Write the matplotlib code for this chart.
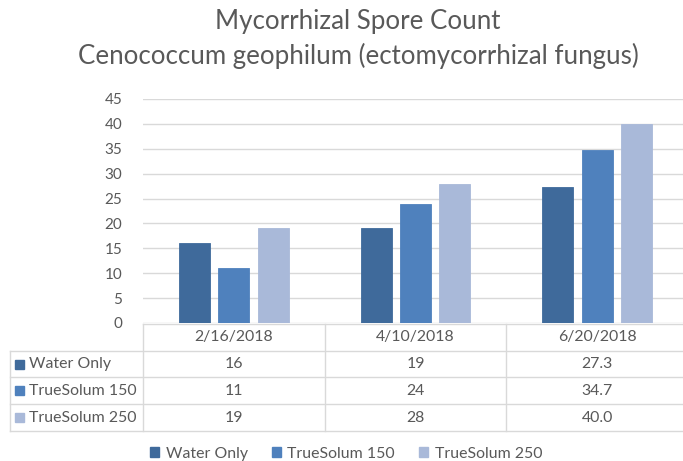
import matplotlib
matplotlib.use("Agg")
import matplotlib.pyplot as plt
from matplotlib.lines import Line2D
from matplotlib.patches import Rectangle
from matplotlib.transforms import blended_transform_factory
import numpy as np

plt.rcParams['font.family'] = ['Lato', 'DejaVu Sans']

title_lines = ["Mycorrhizal Spore Count", "Cenococcum geophilum (ectomycorrhizal fungus)"]
categories = ["2/16/2018", "4/10/2018", "6/20/2018"]
series_names = ["Water Only", "TrueSolum 150", "TrueSolum 250"]
water_only = [16, 19, 27.3]
truesolum_150 = [11, 24, 34.7]
truesolum_250 = [19, 28, 40.0]
table_text = [["16", "19", "27.3"], ["11", "24", "34.7"], ["19", "28", "40.0"]]
yticks = [0, 5, 10, 15, 20, 25, 30, 35, 40, 45]

colors = ["#3F6A9B", "#4F81BD", "#A9B9D9"]
txt = "#595959"
grid = "#D9D9D9"

W, H = 683, 461
fig = plt.figure(figsize=(W / 100, H / 100), dpi=100)

def fx(px):
    return px / W

def fy(py):
    return 1 - py / H

# axes: x from 143 to 688, y 0 at 323, 45 at 99
ax = fig.add_axes([fx(143), fy(323), fx(688) - fx(143), fy(99) - fy(323)])
ax.set_xlim(-0.5, 2.5)
ax.set_ylim(0, 45)

x = np.arange(len(categories))
bw = 0.17
step = 0.217
for i, vals in enumerate([water_only, truesolum_150, truesolum_250]):
    ax.bar(x + (i - 1) * step, vals, width=bw, color=colors[i],
           edgecolor=colors[i], linewidth=0.6, zorder=3)

ax.set_yticks(yticks)
ax.yaxis.grid(True, color=grid, linewidth=1.0, zorder=0)
ax.set_xticks([])
for s in ax.spines.values():
    s.set_visible(False)
ax.tick_params(axis='y', length=0, pad=15, labelsize=11, labelcolor=txt)
ax.set_axisbelow(True)

fs = 11.4

# title
fig.text(fx(358), fy(21), title_lines[0], ha='center', va='center', fontsize=18.6, color=txt)
fig.text(fx(358), fy(56), title_lines[1], ha='center', va='center', fontsize=18.6, color=txt)

# table
lw = 1.0
def hline(x0, x1, y):
    fig.add_artist(Line2D([fx(x0), fx(x1)], [fy(y), fy(y)], color=grid, lw=lw, transform=fig.transFigure))

def vline(xp, y0, y1):
    fig.add_artist(Line2D([fx(xp), fx(xp)], [fy(y0), fy(y1)], color=grid, lw=lw, transform=fig.transFigure))

row_y = [324, 351, 377, 404, 431]
hline(143, 690, 324)
for yy in row_y[1:]:
    hline(10, 690, yy)
vline(10, 351, 431)
for xp in [143, 325, 506]:
    vline(xp, 324, 431)

trans = blended_transform_factory(ax.transData, fig.transFigure)
for j, c in enumerate(categories):
    fig.text(j, fy((row_y[0] + row_y[1]) / 2), c, transform=trans, ha='center', va='center',
             fontsize=fs, color=txt)
for i, name in enumerate(series_names):
    yc = (row_y[i + 1] + row_y[i + 2]) / 2
    fig.add_artist(Rectangle((fx(15), fy(yc + 4.5)), fx(9), fy(0) - fy(9), color=colors[i],
                             transform=fig.transFigure))
    fig.text(fx(29), fy(yc), name, ha='left', va='center', fontsize=fs, color=txt)
    for j in range(len(categories)):
        fig.text(j, fy(yc), table_text[i][j], transform=trans, ha='center', va='center',
                 fontsize=fs, color=txt)

# legend
handles = [Rectangle((0, 0), 1, 1, color=colors[i]) for i in range(3)]
fig.legend(handles, series_names, loc='center', bbox_to_anchor=(fx(346), fy(454)), ncol=3,
           frameon=False, fontsize=fs, labelcolor=txt, handlelength=0.6, handleheight=0.6,
           handletextpad=0.4, columnspacing=1.5)

fig.savefig("out.png", dpi=100)
